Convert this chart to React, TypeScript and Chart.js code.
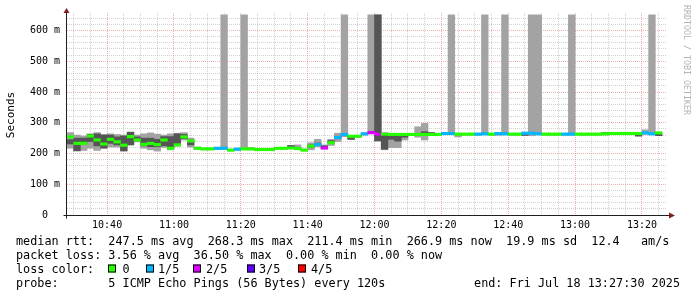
import React, { useEffect, useRef } from 'react';
import { Chart, registerables } from 'chart.js';

Chart.register(...registerables);

// ---- time grid (minutes since midnight) ----
const FIRST_STEP_START = 10 * 60 + 28;
const STEP_MINUTES = 2;
const X_MIN = 10 * 60 + 28;
const X_MAX = 13 * 60 + 27.5;
const Y_MAX = 657;

// ---- series (ms) ----
const medianMs = [
  254, 233, 233, 257, 244, 231, 246, 238, 227, 255,
  244, 230, 233, 229, 244, 217, 228, 254, 241, 217,
  215, 215, 217, 217, 211, 214, 215, 215, 213, 213,
  213, 217, 217, 218, 216, 211, 224, 229, 218, 235,
  252, 262, 256, 256, 264, 268, 263, 263, 262, 262,
  262, 262, 262, 262, 262, 262, 265, 265, 263, 263,
  263, 263, 264, 263, 265, 264, 263, 263, 266, 266,
  264, 263, 263, 263, 263, 263, 263, 263, 263, 263,
  264, 265, 265, 265, 265, 265, 267, 264, 267,
];

const lossCount = [
  0, 0, 0, 0, 0, 0, 0, 0, 0, 0,
  0, 0, 0, 0, 0, 0, 0, 0, 0, 0,
  0, 0, 1, 1, 0, 1, 0, 0, 0, 0,
  0, 0, 0, 0, 0, 0, 0, 1, 2, 0,
  1, 1, 0, 0, 1, 2, 2, 0, 0, 0,
  0, 0, 0, 0, 0, 0, 1, 1, 0, 0,
  0, 1, 1, 0, 1, 1, 0, 0, 1, 1,
  1, 0, 0, 0, 1, 1, 0, 0, 0, 0,
  0, 0, 0, 0, 0, 0, 1, 1, 0,
];

const smokeOuterLo = [
  217, 208, 210, 217, 210, 216, 221, 221, 210, 228,
  238, 217, 212, 208, 220, 212, 224, 244, 221, 213,
  212, 212, 214, 215, 209, 212, 213, 212, 211, 211,
  211, 215, 215, 216, 214, 209, 212, 222, 215, 226,
  239, 255, 246, 253, 260, 264, 241, 212, 219, 219,
  244, 259, 253, 244, 259, 259, 262, 262, 254, 260,
  260, 260, 261, 260, 259, 261, 260, 260, 258, 258,
  261, 260, 260, 260, 260, 260, 260, 260, 260, 260,
  260, 262, 262, 262, 262, 255, 262, 261, 258,
];

const smokeOuterHi = [
  268, 260, 257, 264, 268, 262, 264, 262, 260, 270,
  260, 264, 267, 263, 260, 264, 266, 268, 250, 221,
  218, 218, 220, 651, 214, 217, 651, 218, 216, 216,
  216, 220, 220, 226, 228, 214, 235, 246, 228, 246,
  266, 651, 259, 259, 267, 651, 651, 267, 266, 256,
  264, 265, 287, 298, 268, 265, 268, 651, 266, 266,
  266, 266, 651, 266, 268, 651, 266, 266, 269, 651,
  651, 266, 266, 266, 266, 651, 266, 266, 266, 266,
  269, 268, 268, 268, 268, 268, 277, 651, 268,
];

const smokeInnerLo = [
  231, 209, 231, 239, 225, 218, 233, 228, 208, 228,
  241, 225, 222, 222, 225, 217, 232, 248, 228, 215,
  213, 213, 215, 215, 209, 212, 213, 213, 211, 211,
  211, 215, 215, 218, 215, 209, 220, 226, 216, 235,
  248, 258, 246, 254, 262, 266, 241, 214, 246, 240,
  253, 260, 260, 264, 263, 260, 263, 263, 261, 261,
  261, 261, 262, 261, 263, 262, 261, 261, 259, 264,
  262, 261, 261, 261, 261, 261, 261, 261, 261, 261,
  263, 263, 263, 263, 263, 258, 265, 262, 258,
];

const smokeInnerHi = [
  245, 250, 250, 262, 264, 260, 260, 254, 257, 269,
  254, 250, 250, 246, 255, 255, 264, 262, 244, 219,
  217, 217, 219, 219, 213, 216, 217, 218, 215, 215,
  215, 219, 219, 226, 220, 214, 228, 234, 225, 242,
  256, 264, 256, 258, 266, 270, 651, 266, 260, 256,
  260, 264, 264, 271, 268, 264, 267, 267, 265, 265,
  265, 265, 266, 265, 267, 266, 265, 265, 266, 268,
  266, 265, 265, 265, 265, 265, 265, 265, 265, 265,
  268, 267, 267, 267, 267, 264, 269, 266, 265,
];

// ---- axis labels ----
const xTickLabels = ['10:40', '11:00', '11:20', '11:40', '12:00', '12:20', '12:40', '13:00', '13:20'];
const yTickValues = [0, 100, 200, 300, 400, 500, 600];
const yTickLabels = ['0  ', '100 m', '200 m', '300 m', '400 m', '500 m', '600 m'];

// ---- legend ----
const lossLabels = ['0', '1/5', '2/5', '3/5', '4/5'];
const lossColors = ['#26ff00', '#00b8ff', '#dd00ff', '#5e00ff', '#ff0000'];
const statsLines = [
  'median rtt:  247.5 ms avg  268.3 ms max  211.4 ms min  266.9 ms now  19.9 ms sd  12.4   am/s',
  'packet loss: 3.56 % avg  36.50 % max  0.00 % min  0.00 % now',
];
const lossTitle = 'loss color:';
const probeLine = 'probe:       5 ICMP Echo Pings (56 Bytes) every 120s';
const endLine = 'end: Fri Jul 18 13:27:30 2025';
const yTitle = 'Seconds';
const watermark = 'RRDTOOL / TOBI OETIKER';

const MONO = '"DejaVu Sans Mono", monospace';
const MEDIAN_HALF = 4;

const toMinutes = (s: string) => {
  const [h, m] = s.split(':').map(Number);
  return h * 60 + m;
};
const xTickMinutes = xTickLabels.map(toMinutes);

const overlayPlugin = {
  id: 'overlay',
  afterDraw(chart: any) {
    const ctx: CanvasRenderingContext2D = chart.ctx;
    const { left, right, top, bottom } = chart.chartArea;
    ctx.save();
    // axes
    ctx.strokeStyle = '#1f1f1f';
    ctx.lineWidth = 1;
    ctx.setLineDash([]);
    ctx.beginPath();
    const ax = Math.round(left) - 0.5;
    const ay = Math.round(bottom) + 0.5;
    ctx.moveTo(ax, ay + 3);
    ctx.lineTo(ax, top - 3);
    ctx.moveTo(ax - 3, ay);
    ctx.lineTo(right + 3, ay);
    ctx.stroke();
    // arrows
    ctx.fillStyle = '#801f1f';
    ctx.beginPath();
    ctx.moveTo(ax, top - 5);
    ctx.lineTo(ax - 3, top);
    ctx.lineTo(ax + 3, top);
    ctx.closePath();
    ctx.fill();
    ctx.beginPath();
    ctx.moveTo(right + 8, ay);
    ctx.lineTo(right + 2, ay - 3);
    ctx.lineTo(right + 2, ay + 3);
    ctx.closePath();
    ctx.fill();

    // y title
    ctx.fillStyle = '#000';
    ctx.font = `11px ${MONO}`;
    ctx.save();
    ctx.translate(11, 115);
    ctx.rotate(-Math.PI / 2);
    ctx.textAlign = 'center';
    ctx.textBaseline = 'middle';
    ctx.fillText(yTitle, 0, 0);
    ctx.restore();

    // watermark
    ctx.save();
    ctx.fillStyle = '#b4b4b4';
    ctx.font = `8.3px ${MONO}`;
    ctx.translate(686, 5);
    ctx.rotate(Math.PI / 2);
    ctx.textAlign = 'left';
    ctx.textBaseline = 'middle';
    ctx.fillText(watermark, 0, 0);
    ctx.restore();

    // legend
    ctx.fillStyle = '#000';
    ctx.font = `11.8px ${MONO}`;
    ctx.textAlign = 'left';
    ctx.textBaseline = 'alphabetic';
    ctx.fillText(statsLines[0], 16, 244.5);
    ctx.fillText(statsLines[1], 16, 258.8);
    ctx.fillText(lossTitle, 16, 273.1);
    const boxX = [108, 146, 193, 247, 298];
    const labX = [122.5, 158, 206, 259, 311];
    for (let i = 0; i < lossLabels.length; i++) {
      ctx.fillStyle = lossColors[i];
      ctx.fillRect(boxX[i], 264.5, 8, 8);
      ctx.strokeStyle = '#000';
      ctx.lineWidth = 1;
      ctx.strokeRect(boxX[i] + 0.5, 265, 7, 7);
      ctx.fillStyle = '#000';
      ctx.fillText(lossLabels[i], labX[i], 273.1);
    }
    ctx.fillText(probeLine, 16, 287.4);
    ctx.textAlign = 'right';
    ctx.fillText(endLine, 680, 287.4);
    ctx.restore();
  },
};

export default function App() {
  const ref = useRef<HTMLCanvasElement | null>(null);

  useEffect(() => {
    document.body.style.margin = '0';
    const canvas = ref.current;
    if (!canvas) return;
    const xs = medianMs.map((_, i) => FIRST_STEP_START + STEP_MINUTES * i + STEP_MINUTES / 2);

    const medianColors = lossCount.map((l) => lossColors[l]);

    const chart = new Chart(canvas, {
      type: 'bar',
      data: {
        datasets: [
          {
            label: 'median',
            data: xs.map((x, i) => ({ x, y: [medianMs[i] - MEDIAN_HALF, medianMs[i] + MEDIAN_HALF] })) as any,
            backgroundColor: medianColors,
            order: 1,
          },
          {
            label: 'inner smoke',
            data: xs.map((x, i) => ({ x, y: [smokeInnerLo[i], smokeInnerHi[i]] })) as any,
            backgroundColor: '#555555',
            order: 2,
          },
          {
            label: 'outer smoke',
            data: xs.map((x, i) => ({ x, y: [smokeOuterLo[i], smokeOuterHi[i]] })) as any,
            backgroundColor: '#a3a3a3',
            order: 3,
          },
        ],
      },
      options: {
        responsive: false,
        animation: false,
        devicePixelRatio: 1,
        layout: { padding: { left: 0, right: 30, top: 13, bottom: 0 } },
        datasets: {
          bar: {
            grouped: false,
            barPercentage: 1,
            categoryPercentage: 1,
            borderWidth: 0,
          } as any,
        },
        plugins: {
          legend: { display: false },
          tooltip: { enabled: false },
          title: { display: false },
        },
        scales: {
          x: {
            type: 'linear',
            min: X_MIN,
            max: X_MAX,
            offset: false,
            afterBuildTicks: (scale: any) => {
              const t = [];
              for (let m = 630; m <= 805; m += 5) t.push({ value: m });
              scale.ticks = t;
            },
            afterFit: (scale: any) => {
              scale.height = 82;
            },
            ticks: {
              autoSkip: false,
              maxRotation: 0,
              padding: 4,
              color: '#000',
              font: { family: MONO, size: 10 },
              callback: (v: any) => {
                const idx = xTickMinutes.indexOf(Number(v));
                return idx >= 0 ? xTickLabels[idx] : '';
              },
            },
            grid: {
              offset: false,
              drawTicks: false,
              lineWidth: 1,
              color: (c: any) =>
                c.tick && xTickMinutes.includes(c.tick.value)
                  ? 'rgba(222,79,79,0.45)'
                  : 'rgba(143,143,143,0.4)',
            },
            border: { display: false, dash: [1, 1] },
          } as any,
          y: {
            type: 'linear',
            min: 0,
            max: Y_MAX,
            afterBuildTicks: (scale: any) => {
              const t = [];
              for (let v = 0; v <= 640; v += 20) t.push({ value: v });
              scale.ticks = t;
            },
            afterFit: (scale: any) => {
              scale.width = 67;
            },
            ticks: {
              autoSkip: false,
              padding: 7,
              color: '#000',
              font: { family: MONO, size: 10 },
              callback: (v: any) => {
                const idx = yTickValues.indexOf(Number(v));
                return idx >= 0 ? yTickLabels[idx] : '';
              },
            },
            grid: {
              drawTicks: false,
              lineWidth: 1,
              color: (c: any) =>
                c.tick && yTickValues.includes(c.tick.value) && c.tick.value !== 0
                  ? 'rgba(222,79,79,0.45)'
                  : 'rgba(143,143,143,0.4)',
            },
            border: { display: false, dash: [1, 1] },
          } as any,
        },
      },
      plugins: [overlayPlugin],
    });
    return () => chart.destroy();
  }, []);

  return (
    <div style={{ position: 'absolute', left: 0, top: 0, width: 697, height: 297, background: '#fff' }}>
      <canvas ref={ref} width={697} height={297} style={{ display: 'block' }} />
    </div>
  );
}
